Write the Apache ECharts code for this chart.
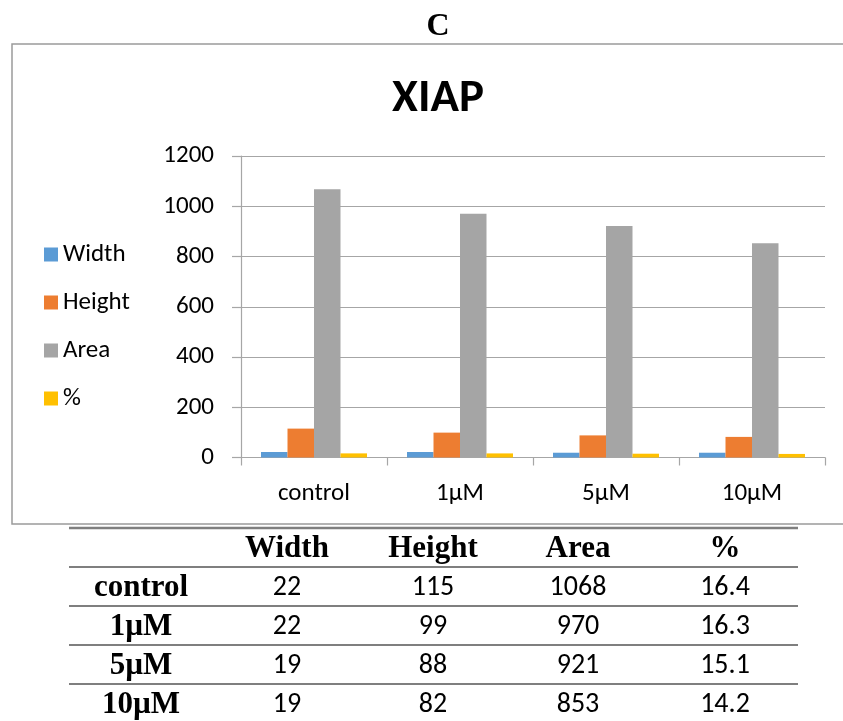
<!DOCTYPE html>
<html>
<head>
<meta charset="utf-8">
<script src="https://cdn.jsdelivr.net/npm/echarts@6/dist/echarts.min.js"></script>
<style>
html,body{margin:0;padding:0;background:#fff;}
#chart{width:843px;height:721px;}
</style>
</head>
<body>
<div id="chart"></div>
<script>
// ---- data ----
const categories = ['control', '1µM', '5µM', '10µM'];
const seriesNames = ['Width', 'Height', 'Area', '%'];
const widthValues = [22, 22, 19, 19];
const heightValues = [115, 99, 88, 82];
const areaValues = [1068, 970, 921, 853];
const pctValues = [16.4, 16.3, 15.1, 14.2];
const yTicks = { min: 0, max: 1200, interval: 200 };
const colors = ['#5B9BD5', '#ED7D31', '#A5A5A5', '#FFC000'];

const sansFont = 'Carlito, "Open Sans", "Liberation Sans", sans-serif';
const serifFont = '"Liberation Serif", "DejaVu Serif", serif';

const seriesValues = [widthValues, heightValues, areaValues, pctValues];

const chart = echarts.init(document.getElementById('chart'), null, { renderer: 'canvas' });

// ---- table graphic (built from the arrays) ----
const tableLeft = 69, tableRight = 798;
const colCenters = [141, 287, 433, 578, 725];
const rowLines = [528, 567, 606, 645, 684];
const rowCenters = [549, 588, 627, 666, 705];
const graphics = [];
graphics.push({
  type: 'rect', silent: true,
  shape: { x: 12, y: 44, width: 860, height: 480 },
  style: { fill: 'none', stroke: '#9b9b9b', lineWidth: 1.5 }
});
rowLines.forEach((y, i) => {
  graphics.push({
    type: 'line', silent: true,
    shape: { x1: tableLeft, y1: y, x2: tableRight, y2: y },
    style: { stroke: '#7f7f7f', lineWidth: i === 0 ? 2.5 : 2 }
  });
});
// header
seriesNames.forEach((name, j) => {
  graphics.push({
    type: 'text', silent: true, x: colCenters[j + 1], y: rowCenters[0],
    style: { text: name, fontFamily: serifFont, fontWeight: 'bold', fontSize: 31, fill: '#000', align: 'center', verticalAlign: 'middle' }
  });
});
categories.forEach((cat, i) => {
  graphics.push({
    type: 'text', silent: true, x: colCenters[0], y: rowCenters[i + 1],
    style: { text: cat, fontFamily: serifFont, fontWeight: 'bold', fontSize: 31, fill: '#000', align: 'center', verticalAlign: 'middle' }
  });
  seriesValues.forEach((vals, j) => {
    graphics.push({
      type: 'text', silent: true, x: colCenters[j + 1], y: rowCenters[i + 1],
      style: { text: String(vals[i]), fontFamily: sansFont, fontSize: 28, fill: '#000', align: 'center', verticalAlign: 'middle' }
    });
  });
});

const option = {
  backgroundColor: '#fff',
  animation: false,
  color: colors,
  title: [
    { text: 'C', left: 433, top: 6, textAlign: 'center',
      textStyle: { fontFamily: serifFont, fontWeight: 'bold', fontSize: 32, color: '#000' } },
    { text: 'XIAP', left: 433, top: 71, textAlign: 'center',
      textStyle: { fontFamily: sansFont, fontWeight: 'bold', fontSize: 47, color: '#000' } }
  ],
  legend: {
    orient: 'vertical',
    left: 39,
    top: 237,
    itemWidth: 14,
    itemHeight: 14,
    itemGap: 23,
    icon: 'rect',
    data: seriesNames,
    textStyle: { fontFamily: sansFont, fontSize: 25, color: '#000', lineHeight: 22 }
  },
  grid: { left: 241, right: 18, top: 156, bottom: 263.5, containLabel: false },
  xAxis: {
    type: 'category',
    data: categories,
    axisLine: { lineStyle: { color: '#a6a6a6', width: 1.2 } },
    axisTick: { show: true, length: 8, lineStyle: { color: '#a6a6a6', width: 1.2 } },
    axisLabel: { fontFamily: sansFont, fontSize: 25, color: '#000', margin: 25, lineHeight: 22 }
  },
  yAxis: {
    type: 'value',
    min: yTicks.min, max: yTicks.max, interval: yTicks.interval,
    axisLine: { show: true, lineStyle: { color: '#a6a6a6', width: 1.2 } },
    axisTick: { show: true, length: 9, lineStyle: { color: '#a6a6a6', width: 1.2 } },
    splitLine: { lineStyle: { color: '#a6a6a6', width: 1.2 } },
    axisLabel: { fontFamily: sansFont, fontSize: 25, color: '#000', margin: 27,
      formatter: function (v) { return String(v); } }
  },
  series: seriesNames.map((name, j) => ({
    name: name,
    type: 'bar',
    data: seriesValues[j],
    barGap: '0%',
    barCategoryGap: '27.4%',
    itemStyle: { color: colors[j] }
  })),
  graphic: graphics
};
chart.setOption(option);
</script>
</body>
</html>
